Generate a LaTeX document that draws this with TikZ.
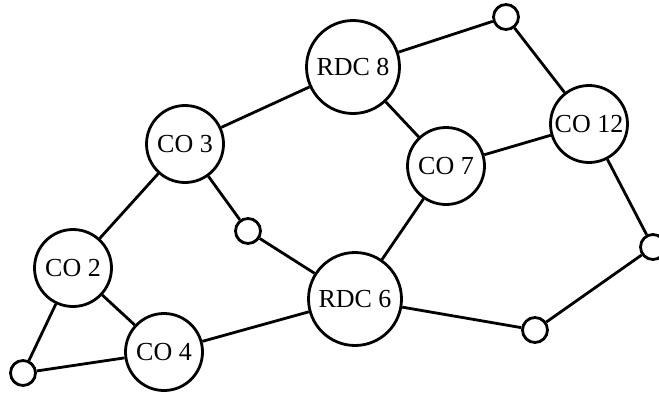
\documentclass[tikz,border=0pt]{standalone}
\usepackage{fontspec}
\setmainfont{Liberation Serif}
\usepackage{tikz}
\usetikzlibrary{shapes}
\tikzset{co/.style={circle,draw,line width=2.8pt,minimum size=77pt,inner sep=0pt,fill=white,font=\fontsize{26}{30}\selectfont},
         rdc/.style={co,minimum size=93pt},
         junc/.style={circle,draw,line width=2.8pt,minimum size=25pt,inner sep=0pt,fill=white}}

\begin{document}
\begin{tikzpicture}[x=1pt,y=-1pt,line width=2.8pt]
        \useasboundingbox (0,0) rectangle (659,394);
        \node[rdc] (rdc8) at (353,67) {RDC 8};
        \node[rdc] (rdc6) at (355,299) {RDC 6};
        \node[co] (co3) at (185,144) {CO 3};
        \node[co] (co7) at (446,166) {CO 7};
        \node[co] (co12) at (589,124) {CO 12};
        \node[co] (co2) at (73,268) {CO 2};
        \node[co] (co4) at (164,352) {CO 4};
        \node[junc] (p1) at (506,17) {};
        \node[junc] (p2) at (248,231) {};
        \node[junc] (p3) at (653,247) {};
        \node[junc] (p4) at (535,330) {};
        \node[junc] (p5) at (23,373) {};

        \draw (rdc8) to [] (p1);
        \draw (p1) to [] (co12);
        \draw (rdc8) to [] (co3);
        \draw (rdc8) to [] (co7);
        \draw (co7) to [] (co12);
        \draw (co12) to [] (p3);
        \draw (p3) to [] (p4);
        \draw (p4) to [] (rdc6);
        \draw (co7) to [] (rdc6);
        \draw (co3) to [] (p2);
        \draw (p2) to [] (rdc6);
        \draw (co3) to [] (co2);
        \draw (co2) to [] (co4);
        \draw (co2) to [] (p5);
        \draw (p5) to [] (co4);
        \draw (co4) to [] (rdc6);
    \end{tikzpicture}
\end{document}
